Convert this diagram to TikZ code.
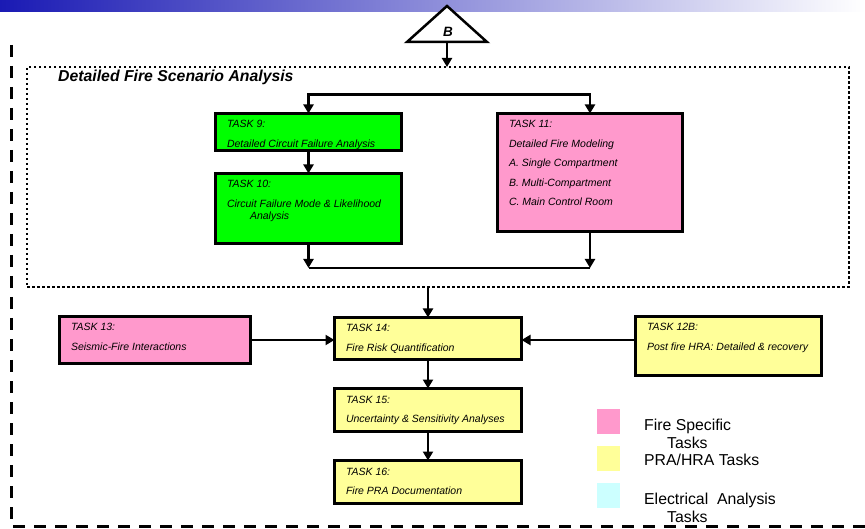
\documentclass[tikz,border=0pt]{standalone}
\usepackage{fontspec}
\setmainfont{Liberation Sans}
\usetikzlibrary{arrows.meta}
\definecolor{barblue}{RGB}{26,26,180}
\definecolor{barmid}{RGB}{172,172,222}
\definecolor{taskgreen}{RGB}{0,255,0}
\definecolor{taskpink}{RGB}{255,153,204}
\definecolor{taskyellow}{RGB}{255,255,153}
\definecolor{taskcyan}{RGB}{204,255,255}
\tikzset{>={Triangle[length=9pt,width=10pt]}}
\newcommand{\tasktext}[3]{\parbox[c][#1][t]{#2}{\leftskip=11.5pt\rule{0pt}{14.5pt}#3}}
\begin{document}
\begin{tikzpicture}[x=1pt,y=-1pt,
  taskbox/.style={draw,line width=3pt,anchor=north west,inner sep=0pt,outer sep=0pt,font=\fontsize{10.5}{19.5}\selectfont\itshape},
  flow/.style={->,line width=2.5pt},
  legendsq/.style={minimum width=23pt,minimum height=25pt,inner sep=0pt},
  legendtxt/.style={anchor=base west,align=left,inner sep=0pt,font=\fontsize{15.8}{18}\selectfont}]
\useasboundingbox (0,0) rectangle (865,529);
\shade[left color=barblue,middle color=barmid,right color=white] (0,0) rectangle (865,12);
% entry point B
\draw[line width=2.5pt,fill=white] (447,6) -- (487,42) -- (407,42) -- cycle;
\node[font=\fontsize{13.5}{16}\selectfont\bfseries\itshape] (b) at (448,32) {B};
\coordinate (tribase) at (447,43);
% outer frame
\draw[line width=3pt,dash pattern=on 12pt off 9pt] (11,45) |- (865,526);
% scenario analysis group
\node[draw,line width=2.5pt,dash pattern=on 2.5pt off 2.5pt,anchor=north west,minimum width=822pt,minimum height=220pt,inner sep=0pt,outer sep=0pt] (scen) at (27,67) {};
\node[anchor=base west,inner sep=0pt,font=\fontsize{15.8}{18}\selectfont\bfseries\itshape] (scentitle) at (58,82) {Detailed Fire Scenario Analysis};
\draw[flow] (tribase) -- (scen.north -| tribase);
% tasks
\node[taskbox,fill=taskgreen] (t9) at (215.5,113.5) {\tasktext{37pt}{186pt}{TASK 9:\\Detailed Circuit Failure Analysis}};
\node[taskbox,fill=taskgreen] (t10) at (215.5,173.5) {\tasktext{70pt}{186pt}{TASK 10:\\Circuit Failure Mode \& Likelihood\\[-7.5pt]\hspace*{23pt}Analysis}};
\node[taskbox,fill=taskpink] (t11) at (497.5,113.5) {\tasktext{118pt}{185pt}{TASK 11:\\Detailed Fire Modeling\\A. Single Compartment\\B. Multi-Compartment\\C. Main Control Room}};
\node[taskbox,fill=taskpink] (t13) at (59.5,316.5) {\tasktext{47pt}{191pt}{TASK 13:\\Seismic-Fire Interactions}};
\node[taskbox,fill=taskyellow] (t14) at (334.5,317.5) {\tasktext{42pt}{187pt}{TASK 14:\\Fire Risk Quantification}};
\node[taskbox,fill=taskyellow] (t15) at (334.5,388.5) {\tasktext{43pt}{187pt}{TASK 15:\\Uncertainty \& Sensitivity Analyses}};
\node[taskbox,fill=taskyellow] (t16) at (334.5,460.5) {\tasktext{43pt}{187pt}{TASK 16:\\Fire PRA Documentation}};
\node[taskbox,fill=taskyellow] (t12b) at (635.5,316.5) {\tasktext{59pt}{186pt}{TASK 12B:\\Post fire HRA: Detailed \& recovery}};
% connectors
\coordinate (joinrow) at (0,268);
\coordinate (joinL) at (t10.south |- joinrow);
\coordinate (joinR) at (t11.south |- joinrow);
\draw[flow,<->] (t9.north) -- ++(0,-19) -| (t11.north);
\draw[flow] (t9.south) -- (t10.north);
\draw[flow] (t10.south) -- (joinL);
\draw[flow] (t11.south) -- (joinR);
\draw[line width=2.5pt] (joinL) -- (joinR);
\draw[flow] (scen.south -| t14.north) -- (t14.north);
\draw[flow] (t13.east) -- (t13.east -| t14.west);
\draw[flow] (t12b.west |- t13.east) -- (t13.east -| t14.east);
\draw[flow] (t14.south) -- (t15.north);
\draw[flow] (t15.south) -- (t16.north);
% legend
\node[legendsq,fill=taskpink] (lgfire) at (608.5,421.5) {};
\node[legendsq,fill=taskyellow] (lgpra) at (608.5,458.5) {};
\node[legendsq,fill=taskcyan] (lgelec) at (608.5,495.5) {};
\node[legendtxt] (lgfiretxt) at (644,448) {Fire Specific\\\hspace*{23pt}Tasks};
\node[legendtxt] (lgpratxt) at (644,465) {PRA/HRA Tasks};
\node[legendtxt] (lgelectxt) at (644,522) {Electrical\ \ Analysis\\\hspace*{23pt}Tasks};
\end{tikzpicture}
\end{document}
